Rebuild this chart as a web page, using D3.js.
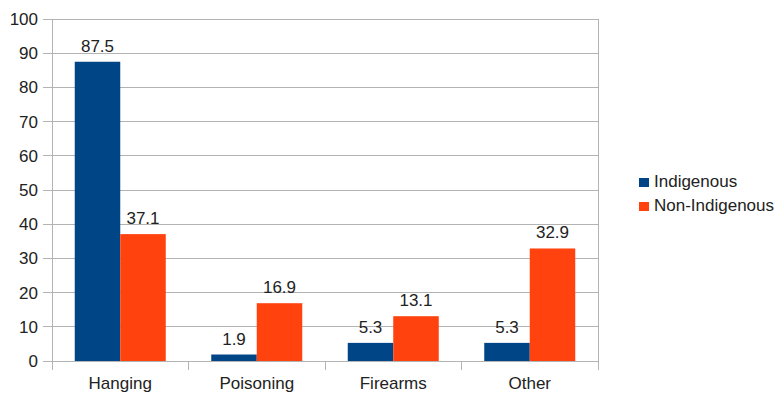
<!DOCTYPE html>
<html><head><meta charset="utf-8">
<script src="https://cdn.jsdelivr.net/npm/d3@7"></script>
<style>body{margin:0;background:#fff}svg{display:block}text{font-family:"Liberation Sans",Arial,sans-serif;fill:#222}</style>
</head><body>
<script>
const categories = ["Hanging","Poisoning","Firearms","Other"];
const seriesNames = ["Indigenous","Non-Indigenous"];
const indigenous = [87.5,1.9,5.3,5.3];
const nonIndigenous = [37.1,16.9,13.1,32.9];
const yTicks = [0,10,20,30,40,50,60,70,80,90,100];
const colors = ["#004586","#ff420e"];

const W=775,H=397,FS="17px";
const m={l:52,r:177,t:19,b:36};
const svg=d3.select("body").append("svg").attr("width",W).attr("height",H);
const x=d3.scaleBand().domain(categories).range([m.l,W-m.r]).paddingInner(0).paddingOuter(0);
const y=d3.scaleLinear().domain([0,100]).range([H-m.b,m.t]);
const inner=d3.scaleBand().domain(seriesNames).range([0,x.bandwidth()]).paddingOuter(0.5).paddingInner(0);

// gridlines
svg.append("g").selectAll("line").data(yTicks).join("line")
 .attr("x1",m.l-9).attr("x2",W-m.r).attr("y1",d=>y(d)).attr("y2",d=>y(d))
 .attr("stroke","#b3b3b3").attr("stroke-width",1).attr("shape-rendering","crispEdges");
// right border
svg.append("line").attr("x1",W-m.r).attr("x2",W-m.r).attr("y1",m.t).attr("y2",y(0))
 .attr("stroke","#b3b3b3").attr("shape-rendering","crispEdges");

// y axis
const ya=svg.append("g").attr("transform",`translate(${m.l},0)`)
 .call(d3.axisLeft(y).tickValues(yTicks).tickSize(0).tickPadding(14));
ya.select(".domain").attr("stroke","#b3b3b3");
ya.selectAll("text").style("font-size",FS).attr("fill","#222").style("font-family","'Liberation Sans',Arial,sans-serif");

// x axis
const xa=svg.append("g").attr("transform",`translate(0,${y(0)})`)
 .call(d3.axisBottom(x).tickSize(0).tickPadding(16));
xa.select(".domain").remove();
xa.selectAll("text").style("font-size",FS).attr("fill","#222").style("font-family","'Liberation Sans',Arial,sans-serif");
// category separator ticks
const seps=categories.map(c=>x(c)).concat([x(categories[categories.length-1])+x.bandwidth()]);
svg.append("g").selectAll("line").data(seps).join("line")
 .attr("x1",d=>d).attr("x2",d=>d).attr("y1",y(0)).attr("y2",y(0)+9)
 .attr("stroke","#b3b3b3").attr("shape-rendering","crispEdges");

// bars
const data=categories.map((c,i)=>({c,vals:[indigenous[i],nonIndigenous[i]]}));
const g=svg.append("g").selectAll("g").data(data).join("g").attr("transform",d=>`translate(${x(d.c)},0)`);
g.selectAll("rect").data(d=>d.vals.map((v,j)=>({v,s:seriesNames[j],j}))).join("rect")
 .attr("x",d=>inner(d.s)).attr("width",inner.bandwidth())
 .attr("y",d=>y(d.v)).attr("height",d=>y(0)-y(d.v)).attr("fill",d=>colors[d.j]);
g.selectAll("text.v").data(d=>d.vals.map((v,j)=>({v,s:seriesNames[j],j}))).join("text")
 .attr("class","v").attr("x",d=>inner(d.s)+inner.bandwidth()/2).attr("y",d=>y(d.v)-10)
 .attr("text-anchor","middle").style("font-size",FS).text(d=>d.v.toFixed(1));

// legend
const lg=svg.append("g").attr("transform","translate(639,0)");
seriesNames.forEach((s,i)=>{
  const base=187+i*24;
  lg.append("rect").attr("x",0).attr("y",base-9).attr("width",10).attr("height",9).attr("fill",colors[i]);
  lg.append("text").attr("x",15).attr("y",base).style("font-size",FS).text(s);
});
</script>
</body></html>
